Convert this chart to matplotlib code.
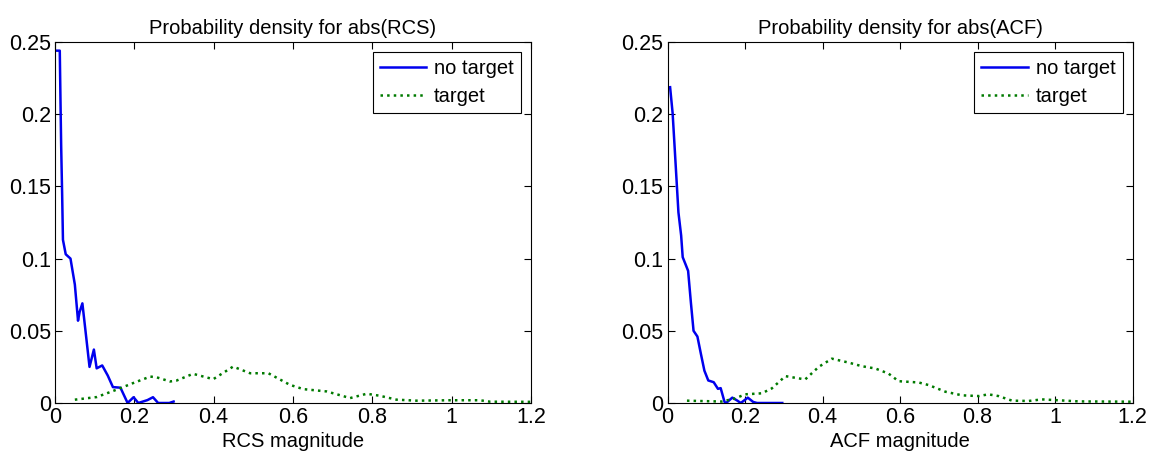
import matplotlib
matplotlib.use('Agg')
import matplotlib.pyplot as plt
from matplotlib.ticker import FormatStrFormatter

# abs(RCS): density without / with target
rcs_x_none = [0.005, 0.012, 0.0137, 0.0155, 0.018, 0.020, 0.027, 0.039, 0.050, 0.058,
              0.062, 0.069, 0.076, 0.087, 0.098, 0.105, 0.119, 0.133, 0.146, 0.165,
              0.183, 0.198, 0.210, 0.233, 0.247, 0.260, 0.288, 0.299]
rcs_y_none = [0.244, 0.244, 0.211, 0.178, 0.144, 0.113, 0.103, 0.100, 0.082, 0.057,
              0.063, 0.069, 0.052, 0.025, 0.037, 0.024, 0.026, 0.019, 0.011, 0.0106,
              0.0, 0.004, 0.0, 0.002, 0.004, 0.0, 0.0, 0.001]
rcs_x_tgt = [0.05, 0.105, 0.155, 0.197, 0.24, 0.256, 0.29, 0.306, 0.348, 0.399,
             0.449, 0.492, 0.538, 0.592, 0.626, 0.685, 0.744, 0.786, 0.819, 0.861,
             0.912, 0.996, 1.071, 1.097, 1.2]
rcs_y_tgt = [0.0023, 0.0041, 0.0092, 0.0138, 0.0183, 0.0178, 0.0149, 0.0155, 0.0202, 0.0165,
             0.0252, 0.0206, 0.0206, 0.0126, 0.0096, 0.0080, 0.0034, 0.0064, 0.0050, 0.0023,
             0.0016, 0.0019, 0.0019, 0.0009, 0.0008]

# abs(ACF): density without / with target
acf_x_none = [0.0065, 0.013, 0.018, 0.023, 0.028, 0.035, 0.039, 0.047, 0.053, 0.060,
              0.067, 0.077, 0.086, 0.095, 0.105, 0.119, 0.130, 0.137, 0.147, 0.151,
              0.167, 0.179, 0.189, 0.207, 0.221, 0.231, 0.296]
acf_y_none = [0.2187, 0.2008, 0.178, 0.155, 0.132, 0.116, 0.101, 0.0956, 0.0915, 0.070,
              0.050, 0.046, 0.034, 0.0224, 0.0156, 0.0144, 0.0098, 0.0103, 0.0007, 0.0,
              0.0037, 0.0018, 0.0, 0.0037, 0.0007, 0.0, 0.0]
acf_x_tgt = [0.05, 0.14, 0.175, 0.2, 0.243, 0.269, 0.304, 0.355, 0.39, 0.424,
             0.467, 0.501, 0.536, 0.570, 0.596, 0.648, 0.674, 0.717, 0.760, 0.803,
             0.828, 0.854, 0.889, 0.932, 0.966, 1.0, 1.061, 1.2]
acf_y_tgt = [0.0016, 0.0010, 0.0032, 0.0060, 0.0067, 0.0101, 0.0186, 0.0163, 0.0250, 0.0307,
             0.0280, 0.0255, 0.0239, 0.0204, 0.0151, 0.0142, 0.0124, 0.0078, 0.0053, 0.0048,
             0.0060, 0.0048, 0.0016, 0.0014, 0.0025, 0.0020, 0.0011, 0.0009]

titles = ['Probability density for abs(RCS)', 'Probability density for abs(ACF)']
xlabels = ['RCS magnitude', 'ACF magnitude']
x_ticks = [0, 0.2, 0.4, 0.6, 0.8, 1, 1.2]
y_ticks = [0, 0.05, 0.1, 0.15, 0.2, 0.25]

plt.rcParams['font.family'] = ['Liberation Sans', 'DejaVu Sans']

fig = plt.figure(figsize=(11.51, 4.55), dpi=100)
ax1 = fig.add_axes([0.0478, 0.1143, 0.4135, 0.7934])
ax2 = fig.add_axes([0.5800, 0.1143, 0.4040, 0.7934])

series = [(rcs_x_none, rcs_y_none, rcs_x_tgt, rcs_y_tgt),
          (acf_x_none, acf_y_none, acf_x_tgt, acf_y_tgt)]

for ax, (xn, yn, xt, yt), title, xlabel in zip([ax1, ax2], series, titles, xlabels):
    ax.plot(xn, yn, color='#0000ee', lw=1.8, label='no target')
    ax.plot(xt, yt, color='#007a00', lw=1.8, ls=':', label='target')
    ax.set_xlim(0, 1.2)
    ax.set_ylim(0, 0.25)
    ax.set_xticks(x_ticks)
    ax.set_yticks(y_ticks)
    ax.xaxis.set_major_formatter(FormatStrFormatter('%g'))
    ax.yaxis.set_major_formatter(FormatStrFormatter('%g'))
    ax.tick_params(direction='in', top=True, right=True, labelsize=15.5, length=5,
                   width=0.8, pad=3)
    for s in ax.spines.values():
        s.set_linewidth(0.8)
    ax.set_title(title, fontsize=14.5, pad=6)
    ax.set_xlabel(xlabel, fontsize=14.5, labelpad=3)
    leg = ax.legend(loc='upper right', fontsize=14.5, fancybox=False, framealpha=1,
                    edgecolor='black', borderaxespad=0.5, handlelength=2.3,
                    handletextpad=0.4, borderpad=0.35, labelspacing=0.45)
    leg.get_frame().set_linewidth(0.8)

fig.savefig('out.png', dpi=100)
